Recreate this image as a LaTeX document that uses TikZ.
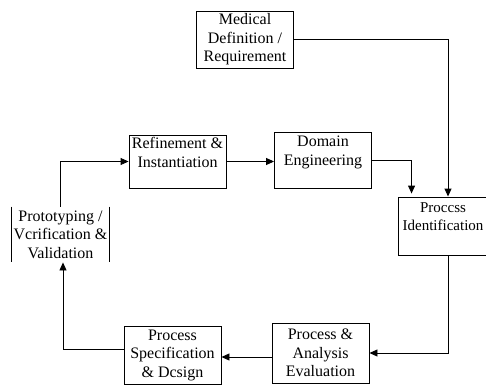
\documentclass[tikz,border=0pt]{standalone}
\usepackage{fontspec}
\setmainfont{Liberation Serif}
\usetikzlibrary{arrows.meta,positioning,calc}

\tikzset{
    stagebox/.style={draw, line width=0.9pt, inner sep=0pt, align=center,
        minimum width=97pt, minimum height=56pt},
    flow/.style={line width=0.9pt, -{Triangle[length=8pt,width=7pt]}}
}

\begin{document}
\begin{tikzpicture}[x=1pt, y=-1pt, font=\fontsize{16}{18.5}\selectfont]
    \useasboundingbox (0,0) rectangle (486,385);

    % stages of the cycle
    \node[stagebox, minimum height=57pt] (medical) at (245, 39.5) {Medical\\Definition /\\Requirement};
    \node[stagebox, minimum height=53pt] (refine) at (177.5, 161.5) {Refinement \&\\Instantiation\\~};
    \node[stagebox] (domain) at (323, 160) {Domain\\Engineering\\~};
    \node[stagebox, minimum width=90pt, minimum height=58pt, font=\fontsize{15}{18.5}\selectfont] (ident) at (443, 226) {Proccss\\Identification\\~};
    \node[stagebox, draw=none, minimum height=55pt] (proto) at (60.5, 234.5) {Prototyping /\\Vcrification \&\\Validation};
    \node[stagebox, minimum height=58pt] (spec) at (172.5, 355) {Process\\Specification\\\& Dcsign};
    \node[stagebox, minimum height=60pt] (anal) at (320.5, 353) {Process \&\\Analysis\\Evaluation};

    % only the sides of the prototyping box are drawn
    \draw[line width=0.9pt] (proto.north west) -- (proto.south west);
    \draw[line width=0.9pt] (proto.north east) -- (proto.south east);

    % connectors
    \draw[flow] (medical.east) -| ($(ident.north)+(5,0)$);
    \draw[flow] (domain.east) -| ($(ident.north west)+(14,-3)$);
    \draw[flow] (refine.east) -- (refine.east -| domain.west);
    \draw[flow] (proto.north) |- (refine.west);
    \draw[flow] ($(ident.south)+(5,0)$) |- (anal.east);
    \draw[flow] ($(anal.west)+(0,4)$) -- ($(anal.west -| spec.east)+(0,4)$);
    \draw[flow] ($(spec.west)+(0,-6)$) -| ($(proto.south)+(2.5,0)$);
\end{tikzpicture}
\end{document}
